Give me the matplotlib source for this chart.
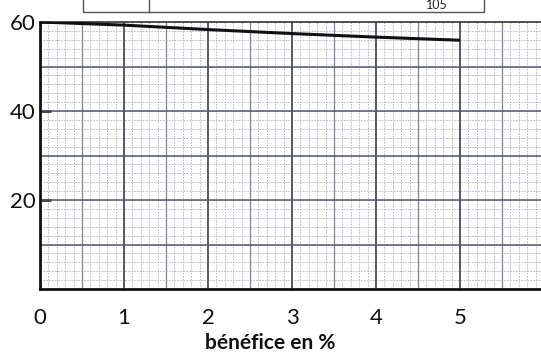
import numpy as np
import matplotlib

matplotlib.use("Agg")
import matplotlib.pyplot as plt
from matplotlib.patches import Rectangle

# data
benefice = [0, 1, 2, 3, 4, 5]
valeurs = [60, 59.3, 58.3, 57.4, 56.6, 55.9]
x_ticks = [0, 1, 2, 3, 4, 5]
y_ticks = [20, 40, 60]

plt.rcParams["font.family"] = ["Lato", "DejaVu Sans"]

W, H = 541, 357
fig = plt.figure(figsize=(W / 100, H / 100), dpi=100)
fig.patch.set_facecolor("white")

# axes box in pixel terms: left 40, top 22, bottom 289, runs off the right edge
ax = fig.add_axes([40 / W, (H - 289) / H, (W - 40) / W, (289 - 22) / H])
x_max = (W - 40) / 84
ax.set_xlim(0, x_max)
ax.set_ylim(0, 60)

# graph paper
minor_c = "#adafc6"
mid_c = "#7e8199"
bold_c = "#55586f"
for xv in np.arange(0, x_max, 0.1):
    ax.axvline(xv, color=minor_c, lw=0.6, ls=(0, (2, 1.5)), zorder=1)
for yv in np.arange(0, 60, 2):
    ax.axhline(yv, color=minor_c, lw=0.6, ls=(0, (2, 1.5)), zorder=1)
for xv in np.arange(0.5, x_max, 1):
    ax.axvline(xv, color=mid_c, lw=0.9, zorder=2)
for xv in np.arange(1, x_max, 1):
    ax.axvline(xv, color=bold_c, lw=1.4, zorder=2)
for yv in np.arange(10, 60, 10):
    ax.axhline(yv, color=bold_c, lw=1.1, zorder=2)

ax.plot(benefice, valeurs, color="#111111", lw=2.2, zorder=4, solid_capstyle="butt")

for side in ["left", "bottom"]:
    ax.spines[side].set_linewidth(2)
    ax.spines[side].set_color("#111111")
ax.spines["top"].set_linewidth(1.2)
ax.spines["top"].set_color("#333333")
ax.spines["right"].set_visible(False)

ax.set_xticks(x_ticks)
ax.set_yticks(y_ticks)
ax.tick_params(axis="x", length=0, pad=14, labelsize=16, colors="#111111")
ax.tick_params(axis="y", direction="in", length=8, width=1.8, pad=3,
               labelsize=16, colors="#111111")
ax.set_xlabel("bénéfice en %", fontsize=15, fontweight="bold", color="#111111")
ax.xaxis.set_label_coords(0.46, -0.165)

# fragment of the table cut off at the top of the scan
fig.patches.append(Rectangle((83 / W, (H - 12) / H), (484 - 83) / W, 20 / H,
                             transform=fig.transFigure, fill=False,
                             edgecolor="#555555", lw=1.0))
fig.lines.append(plt.Line2D([149 / W, 149 / W], [(H - 12) / H, 1],
                            transform=fig.transFigure, color="#555555", lw=1.0))
fig.text(437 / W, (H - 11) / H, "105", ha="center", va="bottom",
         fontsize=9, color="#222222")

fig.savefig("out.png", dpi=100)
